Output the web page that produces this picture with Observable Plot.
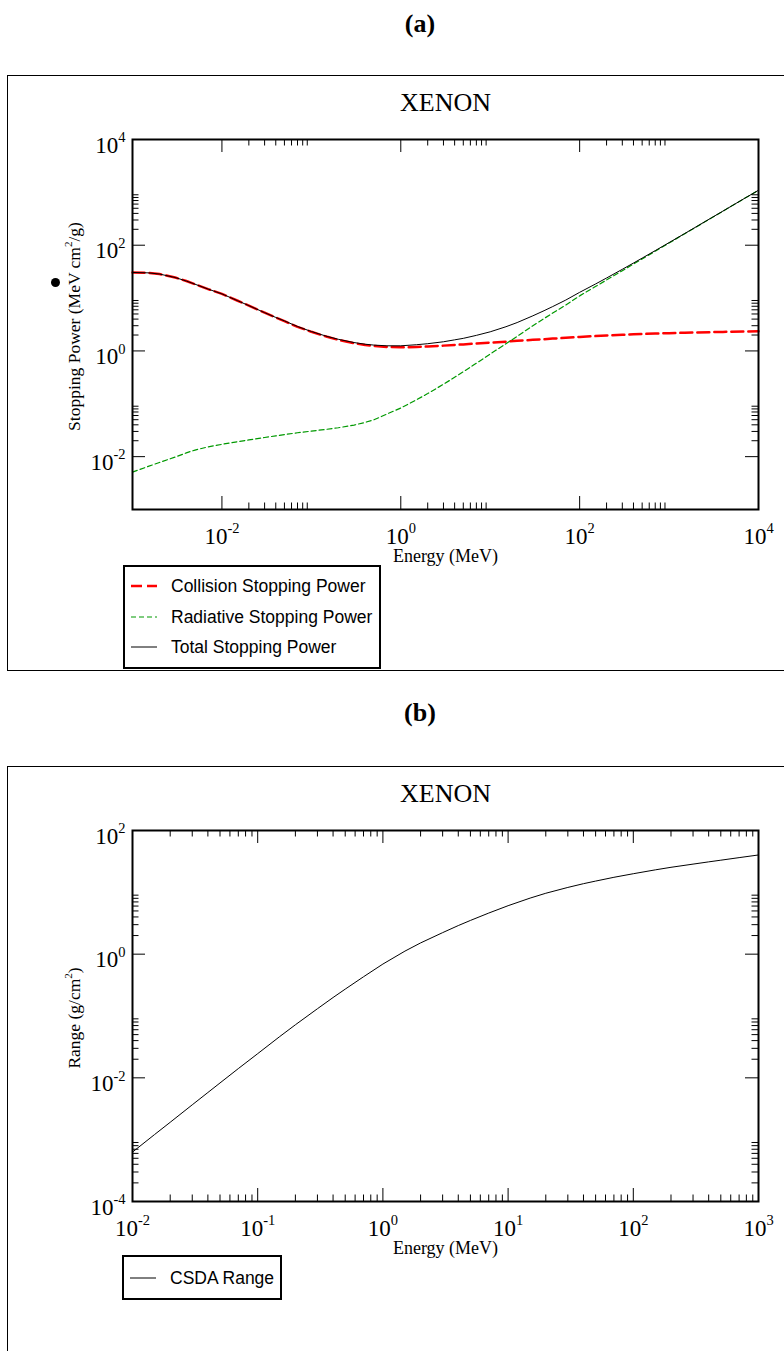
<!DOCTYPE html>
<html>
<head>
<meta charset="utf-8">
<script src="https://cdn.jsdelivr.net/npm/d3@7"></script>
<script src="https://cdn.jsdelivr.net/npm/@observablehq/plot@0.6"></script>
<style>
  body { margin: 0; background: #fff; }
  #page { position: relative; width: 784px; height: 1351px; overflow: hidden;
          font-family: "Liberation Serif", "Times New Roman", serif; color: #000; background: #fff; }
  .panel-title { position: absolute; left: 370px; width: 100px; text-align: center;
                 font-weight: bold; font-size: 26px; line-height: 26px; }
  .outer { position: absolute; left: 7px; border: 1.5px solid #000; box-sizing: border-box; }
  .chart { position: absolute; left: 0; }
  .chart svg { overflow: visible; }
  .legend { position: absolute; border: 2px solid #000; background: #fff; box-sizing: border-box;
            font-family: "Liberation Sans", Arial, sans-serif; font-size: 17.5px; }
  .legend .row { position: absolute; left: 0; height: 20px; width: 100%; }
  .legend .row svg { position: absolute; left: 5px; top: 0; }
  .legend .row span { position: absolute; left: 46px; top: 0; line-height: 20px; white-space: nowrap; }
  .blob { position: absolute; width: 9px; height: 9px; border-radius: 50%; background: #000; }
</style>
</head>
<body>
<div id="page">
  <div class="panel-title" style="top:11px">(a)</div>
  <div class="outer" style="top:75px;height:596px;width:800px"></div>
  <div class="chart" id="chartA" style="top:100px"></div>
  <div class="blob" style="left:50.5px;top:277.5px"></div>
  <div class="legend" style="left:123px;top:565px;width:258px;height:104px">
    <div class="row" style="top:9px">
      <svg width="28" height="20"><line x1="1" x2="27" y1="10" y2="10" stroke="#ff0000" stroke-width="2.5" stroke-dasharray="11,5"/></svg>
      <span>Collision Stopping Power</span>
    </div>
    <div class="row" style="top:40px">
      <svg width="28" height="20"><line x1="1" x2="27" y1="10" y2="10" stroke="#009900" stroke-width="1.2" stroke-dasharray="5,3"/></svg>
      <span>Radiative Stopping Power</span>
    </div>
    <div class="row" style="top:70px">
      <svg width="28" height="20"><line x1="1" x2="27" y1="10" y2="10" stroke="#000" stroke-width="1"/></svg>
      <span>Total Stopping Power</span>
    </div>
  </div>

  <div class="panel-title" style="top:700px">(b)</div>
  <div class="outer" style="top:766px;height:700px;width:800px"></div>
  <div class="chart" id="chartB" style="top:790px"></div>
  <div class="legend" style="left:122px;top:1255px;width:160px;height:45px">
    <div class="row" style="top:11px">
      <svg width="28" height="20"><line x1="1" x2="27" y1="10" y2="10" stroke="#000" stroke-width="1"/></svg>
      <span>CSDA Range</span>
    </div>
  </div>
</div>

<script>
// ---- Electron stopping powers in xenon (MeV cm^2/g) ----
const energyA = [0.001, 0.0015, 0.002, 0.003, 0.004, 0.005, 0.007, 0.01, 0.015, 0.02, 0.03, 0.04, 0.05, 0.07,
  0.1, 0.15, 0.2, 0.3, 0.4, 0.5, 0.7, 1, 1.5, 2, 3, 4, 5, 7, 10, 15, 20, 30, 40, 50, 70,
  100, 150, 200, 300, 400, 500, 700, 1000, 1500, 2000, 3000, 4000, 5000, 7000, 10000];
const collision = [30.5, 30.0, 28.5, 24.5, 21.0, 18.3, 14.8, 12.0, 8.9, 7.2, 5.3, 4.3, 3.65, 2.85,
  2.3, 1.85, 1.62, 1.40, 1.29, 1.24, 1.19, 1.17, 1.19, 1.21, 1.26, 1.30, 1.33, 1.38, 1.43, 1.50, 1.55, 1.62, 1.67, 1.71, 1.77,
  1.84, 1.91, 1.96, 2.02, 2.06, 2.09, 2.13, 2.17, 2.21, 2.24, 2.27, 2.29, 2.31, 2.33, 2.35];
const radiative = [0.0051, 0.00653, 0.00776, 0.00982, 0.0118, 0.0133, 0.0153, 0.0171, 0.0192, 0.0207, 0.0230, 0.0247, 0.0261, 0.0283,
  0.0304, 0.0330, 0.0352, 0.0395, 0.0445, 0.0497, 0.064, 0.0832, 0.119, 0.156, 0.234, 0.317, 0.404, 0.585, 0.873, 1.37, 1.89, 3.0, 4.1, 5.2, 7.4,
  11.0, 16.5, 22.0, 33, 44, 55, 77, 110, 165, 220, 330, 440, 550, 770, 1095];
const total = [30.5, 30.0, 28.5, 24.5, 21.0, 18.3, 14.8, 12.0, 8.9, 7.2, 5.3, 4.3, 3.7, 2.9,
  2.33, 1.88, 1.66, 1.44, 1.34, 1.29, 1.25, 1.25, 1.31, 1.37, 1.49, 1.62, 1.73, 1.97, 2.30, 2.87, 3.44, 4.62, 5.77, 6.91, 9.17,
  12.84, 18.4, 23.96, 35, 46, 57, 79, 112, 167, 222, 332, 442, 552, 772, 1097];

// ---- CSDA range in xenon (g/cm^2) ----
const energyB = [0.01, 0.015, 0.02, 0.03, 0.04, 0.05, 0.07, 0.1, 0.15, 0.2, 0.3, 0.4, 0.5, 0.7,
  1, 1.5, 2, 3, 4, 5, 7, 10, 15, 20, 30, 40, 50, 70, 100, 150, 200, 300, 400, 500, 700, 1000];
const csdaRange = [0.00063, 0.00121, 0.00191, 0.00366, 0.00579, 0.00826, 0.0141, 0.0246, 0.0465, 0.0721, 0.131, 0.199, 0.272, 0.431,
  0.692, 1.12, 1.52, 2.23, 2.90, 3.51, 4.62, 6.08, 8.07, 9.66, 12.0, 13.8, 15.2, 17.5, 20.0, 23.1, 25.4, 28.6, 31.1, 33.1, 36.4, 40.2];

// ---- Axis ticks ----
const minorSteps = [2, 3, 4, 5, 6, 7, 8, 9];
const xMajorA = [1e-2, 1e0, 1e2];
const yMajorA = [1e-2, 1e0, 1e2];
const xLabelA = [1e-2, 1e0, 1e2, 1e4];
const yLabelA = [1e-2, 1e0, 1e2, 1e4];
const xMajorB = [1e-1, 1e0, 1e1, 1e2];
const xMinorDecadesB = [1e-2, 1e-1, 1e0, 1e1, 1e2];
const yMajorB = [1e-2, 1e0];
const yMinorDecadesB = [1e-4, 1e-2, 1e0];
const xLabelB = [1e-2, 1e-1, 1e0, 1e1, 1e2, 1e3];
const yLabelB = [1e-4, 1e-2, 1e0, 1e2];

const minors = decades => decades.flatMap(d => minorSteps.map(k => k * d));
const pow10 = d => `10^${Math.round(Math.log10(d))}`;

const tableA = energyA.map((e, i) => ({energy: e, collision: collision[i], radiative: radiative[i], total: total[i]}));
const tableB = energyB.map((e, i) => ({energy: e, range: csdaRange[i]}));

// Inward-pointing ticks on all four sides of the frame
function frameTicks(values, len, plotW, plotH, axis) {
  if (axis === "x") return [
    Plot.tickX(values, {x: d => d, insetTop: plotH - len, strokeWidth: 1}),
    Plot.tickX(values, {x: d => d, insetBottom: plotH - len, strokeWidth: 1})
  ];
  return [
    Plot.tickY(values, {y: d => d, insetRight: plotW - len, strokeWidth: 1}),
    Plot.tickY(values, {y: d => d, insetLeft: plotW - len, strokeWidth: 1})
  ];
}

function panel({height, marginTop, marginBottom, xDomain, yDomain, xMajor, xMinor, yMajor, yMinor,
                xLabels, yLabels, yTitle, marks}) {
  const width = 784, marginLeft = 132, marginRight = 26;
  const plotW = width - marginLeft - marginRight, plotH = height - marginTop - marginBottom;
  return Plot.plot({
    width, height, marginLeft, marginRight, marginTop, marginBottom,
    style: {fontFamily: "'Liberation Serif', 'Times New Roman', serif", background: "transparent", overflow: "visible", color: "#000"},
    x: {type: "log", domain: xDomain, axis: null},
    y: {type: "log", domain: yDomain, axis: null},
    marks: [
      ...marks,
      ...frameTicks(xMajor, 13, plotW, plotH, "x"),
      ...frameTicks(xMinor, 6.5, plotW, plotH, "x"),
      ...frameTicks(yMajor, 13, plotW, plotH, "y"),
      ...frameTicks(yMinor, 6.5, plotW, plotH, "y"),
      Plot.frame({stroke: "#000", strokeWidth: 2}),
      Plot.text(xLabels, {x: d => d, frameAnchor: "bottom", dy: 34, lineAnchor: "bottom", textAnchor: "middle", text: pow10, fontSize: 23}),
      Plot.text(yLabels, {y: d => d, frameAnchor: "left", dx: -7, dy: 13, lineAnchor: "bottom", textAnchor: "end", text: pow10, fontSize: 23}),
      Plot.text(["XENON"], {frameAnchor: "top", dy: -47, textAnchor: "middle", text: d => d, fontSize: 26}),
      Plot.text(["Energy (MeV)"], {frameAnchor: "bottom", dy: 52, lineAnchor: "bottom", textAnchor: "middle", text: d => d, fontSize: 18}),
      Plot.text([yTitle], {frameAnchor: "left", dx: -58, dy: 2, rotate: -90, textAnchor: "middle", text: d => d, fontSize: 17.5})
    ]
  });
}

// Turn "a^n" into a superscript tspan
function superscripts(svg) {
  d3.select(svg).selectAll("text").each(function () {
    const s = this.textContent;
    if (!s.includes("^")) return;
    const fs = parseFloat(getComputedStyle(this).fontSize) || 16;
    const sup = +(fs * 0.63).toFixed(1), rise = +(fs * 0.45).toFixed(1);
    const parts = s.split(/\^(-?\d+)/);
    const el = d3.select(this);
    el.text(null);
    parts.forEach((p, i) => {
      if (!p) return;
      if (i % 2) el.append("tspan").attr("font-size", sup).attr("dy", -rise).text(p);
      else el.append("tspan").attr("dy", i > 0 ? rise : null).text(p);
    });
  });
}

const chartA = panel({
  height: 480, marginTop: 39, marginBottom: 71,
  xDomain: [1e-3, 1e4], yDomain: [1e-3, 1e4],
  xMajor: xMajorA, xMinor: minors(xMajorA), yMajor: yMajorA, yMinor: minors(yMajorA),
  xLabels: xLabelA, yLabels: yLabelA,
  yTitle: "Stopping Power (MeV cm^2/g)",
  marks: [
    Plot.line(tableA, {x: "energy", y: "collision", stroke: "#ff0000", strokeWidth: 2.5, strokeDasharray: "12,5"}),
    Plot.line(tableA, {x: "energy", y: "radiative", stroke: "#009900", strokeWidth: 1.2, strokeDasharray: "5,3"}),
    Plot.line(tableA, {x: "energy", y: "total", stroke: "#000", strokeWidth: 1})
  ]
});
document.getElementById("chartA").appendChild(chartA);
superscripts(chartA);

const chartB = panel({
  height: 470, marginTop: 40, marginBottom: 59,
  xDomain: [1e-2, 1e3], yDomain: [1e-4, 1e2],
  xMajor: xMajorB, xMinor: minors(xMinorDecadesB), yMajor: yMajorB, yMinor: minors(yMinorDecadesB),
  xLabels: xLabelB, yLabels: yLabelB,
  yTitle: "Range (g/cm^2)",
  marks: [
    Plot.line(tableB, {x: "energy", y: "range", stroke: "#000", strokeWidth: 1})
  ]
});
document.getElementById("chartB").appendChild(chartB);
superscripts(chartB);
</script>
</body>
</html>
